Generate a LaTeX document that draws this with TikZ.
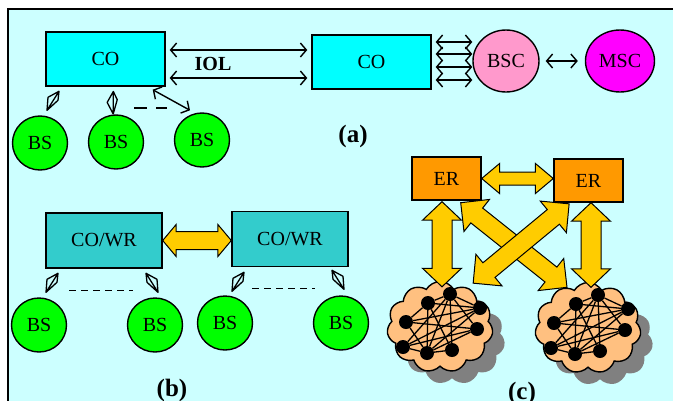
\documentclass[tikz,border=0pt]{standalone}
\usepackage{fontspec}
\setmainfont{Liberation Serif}
\usetikzlibrary{arrows.meta,positioning,shapes.geometric,shapes.arrows,shapes.symbols,calc}
\definecolor{netPale}{HTML}{CCFFFF}
\definecolor{netCyan}{HTML}{00FFFF}
\definecolor{netTeal}{HTML}{33CCCC}
\definecolor{netGreen}{HTML}{00FF00}
\definecolor{netPink}{HTML}{FF99CC}
\definecolor{netMagenta}{HTML}{FF00FF}
\definecolor{netOrange}{HTML}{FF9900}
\definecolor{netGold}{HTML}{FFCC00}
\definecolor{netPeach}{HTML}{FFC080}
\definecolor{netShadow}{HTML}{808080}
\newcommand\fatlink[3][]{%
  \path let \p1=#2, \p2=#3, \n1={atan2(\y2-\y1,\x2-\x1)}, \n2={veclen(\x2-\x1,\y2-\y1)} in
    node[fat,#1,rotate=\n1,minimum height=\n2] at ($(\p1)!0.5!(\p2)$) {};}

\begin{document}
\begin{tikzpicture}[x=1pt,y=-1pt,font=\fontsize{20}{23}\selectfont]
    \tikzset{box/.style={draw,line width=1.4pt,inner sep=0pt,minimum width=119pt,minimum height=54pt},
      bs/.style={ellipse,draw,line width=1.4pt,fill=netGreen,minimum width=55pt,minimum height=54pt,inner sep=0pt},
      link/.style={{Straight Barb[length=6pt,width=14pt]}-{Straight Barb[length=6pt,width=14pt]},line width=1.4pt},
      fat/.style={double arrow,draw,fill=netGold,line width=1pt,inner xsep=0pt,inner ysep=8.5pt,
        double arrow head extend=7pt,double arrow tip angle=100},
      blob/.style={cloud,cloud puffs=11,cloud puff arc=120,aspect=1.15,minimum width=106pt,minimum height=91pt,inner sep=0pt},
      dot/.style={circle,fill=black,minimum size=14pt,inner sep=0pt},
      tag/.style={font=\fontsize{25}{28}\selectfont\bfseries},
      radio/.pic={\draw[line width=1.3pt,line join=round] (-5,-3) -- (6,-9) -- (5,0) -- (-6,10) -- cycle (-6,10) -- (6,-9);}}
    \useasboundingbox (0,0) rectangle (673,400);
    \clip (0,0) rectangle (673,400);
    \draw[line width=1.5pt,fill=netPale] (8,9) rectangle (700,430);
    \node[box,fill=netCyan] (co1) at (105.5,59) {CO};
    \node[box,fill=netCyan] (co2) at (371.5,62) {CO};
    \node[ellipse,draw,line width=1.4pt,fill=netPink,minimum width=66pt,minimum height=62pt,inner sep=0pt] (bsc) at (506,61) {BSC};
    \node[ellipse,draw,line width=1.4pt,fill=netMagenta,minimum width=69pt,minimum height=62pt,inner sep=0pt] (msc) at (620,61) {MSC};
    \node[bs] (bs1) at (40,143) {BS};
    \node[bs] (bs2) at (116,142) {BS};
    \node[bs] (bs3) at (202,140) {BS};
    \node[tag] (taga) at (353,136) {(a)};
    \foreach \y in {50,78}
      \draw[link,shorten <=4pt,shorten >=4pt] (co1.east |- 0,\y) -- (co2.west |- 0,\y);
    \node[font=\fontsize{20}{23}\selectfont\bfseries] (iol) at (213,64) {IOL};
    \foreach \y in {42,54,67,80}
      \draw[link,shorten <=4pt] (co2.east |- 0,\y) -- (bsc.west |- 0,\y);
    \draw[link,shorten <=6pt,shorten >=7pt] (bsc) -- (msc);
    \draw[link] ([shift={(-13,3)}]co1.south east) -- ([shift={(-12,-2)}]bs3.north);
    \draw[line width=2pt,dash pattern=on 13pt off 9pt] ($(bs2.north)+(18,-6)$) -- ($(bs3.north)+(-35,-4)$);
    \pic at ($(bs1.north)+(13,-15)$) {radio};
    \pic[rotate=32] at ($(bs2.north)+(-3,-12)$) {radio};
    \node[box,fill=netTeal,minimum width=116pt,minimum height=55pt] (wr1) at (104,240.5) {CO/WR};
    \node[box,fill=netTeal,minimum width=116pt,minimum height=55pt] (wr2) at (290,239) {CO/WR};
    \node[bs] (bs4) at (39,325) {BS};
    \node[bs] (bs5) at (155,325) {BS};
    \node[bs] (bs6) at (225,323) {BS};
    \node[bs] (bs7) at (341,323) {BS};
    \node[tag] (tagb) at (172,390) {(b)};
    \fatlink{(wr1.east)}{(wr2.west |- wr1.east)}
    \draw[line width=1.5pt,dash pattern=on 7pt off 5pt] ($(bs4.north)+(30,-7)$) -- ($(bs5.north)+(-22,-7)$);
    \draw[line width=1.5pt,dash pattern=on 7pt off 5pt] ($(bs6.north)+(27,-7)$) -- ($(bs7.north)+(-26,-7)$);
    \pic at ($(bs4.north)+(13,-15)$) {radio};
    \pic[xscale=-1] at ($(bs5.north)+(-3,-15)$) {radio};
    \pic at ($(bs6.north)+(13,-14)$) {radio};
    \pic[xscale=-1] at ($(bs7.north)+(-3,-16)$) {radio};
    \node[box,fill=netOrange,minimum width=69pt,minimum height=43pt] (er1) at (446.5,178.5) {ER};
    \node[box,fill=netOrange,minimum width=69pt,minimum height=43pt] (er2) at (588.5,180.5) {ER};
    \node[blob,fill=netShadow] (sh1) at (452,339) {};
    \node[blob,fill=netShadow] (sh2) at (600,340) {};
    \node[blob,draw,line width=1.4pt,fill=netPeach] (cl1) at (440,327) {};
    \node[blob,draw,line width=1.4pt,fill=netPeach] (cl2) at (588,328) {};
    \foreach \c in {cl1,cl2} {
      \foreach \dx/\dy [count=\i] in {-12/-24,10/-33,40/-19,-34/-5,37/2,-37/20,-13/26,12/23}
        \node[dot] (\c-\i) at ($(\c)+(\dx,\dy)$) {};
      \foreach \a/\b in {1/2,1/3,1/4,1/7,1/8,2/3,2/5,2/6,2/7,2/8,3/4,3/6,3/7,4/5,4/7,5/6,5/7,6/7,7/8}
        \draw[line width=1.3pt] (\c-\a) -- (\c-\b);
    }
    \node[tag] (tagc) at (522,393) {(c)};
    \fatlink[inner ysep=6pt,double arrow head extend=8.5pt,double arrow tip angle=80]{(er1.east)}{(er2.west |- er1.east)}
    \fatlink[inner ysep=9.5pt,double arrow head extend=9.5pt,double arrow tip angle=93]{([shift={(-4.5,1)}]er1.south)}{([shift={(2,6)}]cl1.north)}
    \fatlink[inner ysep=9.5pt,double arrow head extend=9.5pt,double arrow tip angle=93]{([shift={(2.5,0)}]er2.south)}{([shift={(3,5.5)}]cl2.north)}
    \fatlink[inner ysep=9pt,double arrow head extend=11pt,double arrow tip angle=90]{([shift={(-21,2)}]er1.south east)}{([shift={(-21,5.5)}]cl2.north)}
    \fatlink[inner ysep=9pt,double arrow head extend=11pt,double arrow tip angle=90]{([shift={(16,1)}]er2.south west)}{([shift={(33,2.5)}]cl1.north)}
  \end{tikzpicture}
\end{document}
